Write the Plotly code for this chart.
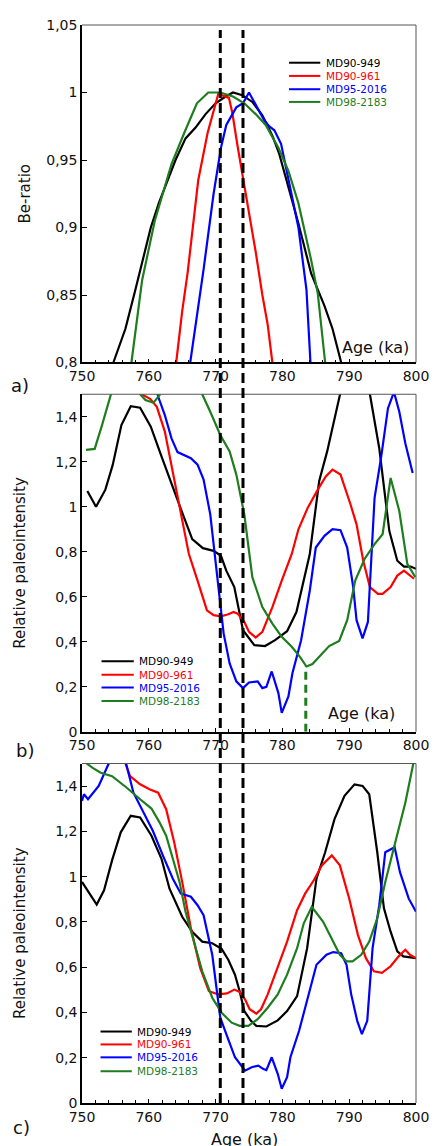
import plotly.graph_objects as go

# page has an 8px body margin, so the figure is made 8px smaller and margins shifted
PAGE_OFF = 8
W, H = 430, 1138
L, R, T, B = 74, 14, 9, 43

names = ["MD90-949", "MD90-961", "MD95-2016", "MD98-2183"]
colors = ["#000000", "#ff0000", "#0000ff", "#1e7d1e"]

# reversal boundaries (ka) drawn as dashed lines
reversal_ages = [770.7, 774.1]
md98_min_age = 783.5
md98_min_val = 0.29

# a) Be-ratio
be_age_949 = [754.7, 756.5, 758.0, 760.3, 761.5, 763.0, 764.0, 765.5, 767.0, 768.5, 770.0, 771.5,
              772.6, 774.0, 775.5, 777.0, 778.5, 779.5, 780.9, 782.4, 784.3, 786.3, 787.5, 788.8]
be_949 = [0.800, 0.825, 0.854, 0.900, 0.918, 0.938, 0.950, 0.966, 0.974, 0.984, 0.992, 0.997,
          1.000, 0.998, 0.993, 0.983, 0.968, 0.955, 0.930, 0.903, 0.866, 0.842, 0.825, 0.800]
be_age_961 = [764.1, 765.0, 765.8, 766.6, 767.4, 768.8, 770.4, 772.0, 772.5, 773.3, 774.1, 775.0,
              776.0, 777.0, 777.8, 778.5]
be_961 = [0.800, 0.838, 0.866, 0.900, 0.935, 0.970, 0.999, 0.996, 0.985, 0.960, 0.937, 0.910,
          0.882, 0.850, 0.828, 0.800]
be_age_2016 = [766.2, 768.2, 769.7, 770.8, 771.6, 773.1, 774.1, 775.0, 776.0, 777.2, 778.0, 778.8,
               779.8, 780.9, 782.4, 783.6, 784.2]
be_2016 = [0.800, 0.869, 0.925, 0.959, 0.976, 0.989, 0.992, 1.000, 0.991, 0.980, 0.975, 0.972,
           0.962, 0.935, 0.900, 0.854, 0.800]
be_age_2183 = [757.4, 759.0, 760.9, 763.4, 765.3, 767.2, 768.9, 770.7, 772.6, 774.3, 776.0, 777.5,
               779.4, 780.9, 782.4, 784.3, 785.3, 786.4]
be_2183 = [0.800, 0.861, 0.905, 0.947, 0.970, 0.992, 1.000, 1.000, 0.997, 0.992, 0.984, 0.976,
           0.959, 0.942, 0.918, 0.876, 0.851, 0.800]

# b) Relative paleointensity
pi_b_age_949 = [750.8, 752.1, 753.5, 754.6, 755.9, 757.3, 758.7, 760.3, 761.9, 763.4, 765.1, 766.5,
                768.1, 769.7, 770.8, 771.6, 772.8, 774.1, 775.8, 777.4, 778.9, 780.7, 782.1, 784.1,
                785.5, 786.7, 788.7, 790.0, 791.3, 792.3, 793.1, 794.5, 796.0, 797.2, 798.2, 799.2, 800.0]
pi_b_949 = [1.07, 1.00, 1.076, 1.186, 1.363, 1.447, 1.44, 1.356, 1.224, 1.099, 0.966, 0.856,
            0.816, 0.804, 0.782, 0.716, 0.643, 0.451, 0.385, 0.381, 0.407, 0.447, 0.532, 0.79,
            1.113, 1.246, 1.496, 1.68, 1.76, 1.70, 1.50, 1.26, 0.893, 0.76, 0.734, 0.734, 0.724]
pi_b_age_961 = [757.6, 758.9, 760.2, 761.2, 762.4, 763.6, 764.8, 766.0, 767.3, 768.7, 769.7, 770.8,
                771.9, 772.7, 773.3, 774.3, 775.0, 776.0, 777.0, 778.5, 779.9, 781.4, 782.4, 783.8,
                785.3, 786.5, 787.5, 788.7, 790.2, 791.1, 792.1, 793.1, 794.3, 795.0, 796.2, 797.2,
                798.2, 799.2, 799.7]
pi_b_961 = [1.57, 1.50, 1.48, 1.444, 1.334, 1.157, 0.966, 0.79, 0.672, 0.54, 0.518, 0.513,
            0.522, 0.532, 0.525, 0.488, 0.444, 0.419, 0.444, 0.554, 0.672, 0.79, 0.90, 0.996,
            1.076, 1.135, 1.165, 1.143, 1.01, 0.922, 0.76, 0.643, 0.613, 0.613, 0.643, 0.694,
            0.716, 0.694, 0.68]
pi_b_age_2016 = [760.6, 761.4, 762.4, 763.4, 764.3, 765.3, 766.3, 767.3, 768.2, 769.2, 770.2, 771.2,
                 772.1, 773.1, 774.1, 775.0, 776.3, 777.0, 777.6, 778.4, 779.4, 779.9, 780.9, 781.5,
                 782.8, 784.1, 785.0, 786.3, 787.5, 788.7, 789.7, 790.6, 791.1, 792.0, 792.8, 793.8,
                 794.8, 795.8, 796.7, 797.5, 798.4, 799.5]
pi_b_2016 = [1.60, 1.49, 1.407, 1.304, 1.243, 1.231, 1.216, 1.187, 1.121, 0.966, 0.701, 0.437,
             0.304, 0.224, 0.194, 0.219, 0.224, 0.194, 0.20, 0.268, 0.172, 0.084, 0.157, 0.26,
             0.407, 0.628, 0.819, 0.871, 0.90, 0.896, 0.819, 0.643, 0.496, 0.415, 0.488, 1.04,
             1.224, 1.437, 1.51, 1.422, 1.282, 1.15]
pi_b_age_2183 = [750.6, 751.9, 753.0, 754.3, 755.5, 757.0, 758.0, 758.7, 759.5, 760.7, 761.7, 762.5,
                 764.0, 766.0, 767.3, 768.0, 769.2, 770.7, 772.1, 773.1, 774.3, 775.5, 777.0, 778.5,
                 779.9, 781.4, 782.6, 783.6, 784.5, 785.8, 787.0, 788.5, 789.7, 790.9, 792.3, 793.8,
                 795.0, 796.2, 797.5, 798.7, 799.9]
pi_b_2183 = [1.253, 1.257, 1.363, 1.50, 1.62, 1.65, 1.56, 1.50, 1.474, 1.462, 1.50, 1.58,
             1.65, 1.65, 1.56, 1.50, 1.422, 1.319, 1.246, 1.143, 0.966, 0.687, 0.554, 0.481,
             0.422, 0.378, 0.334, 0.29, 0.301, 0.341, 0.381, 0.404, 0.496, 0.672, 0.768, 0.834,
             0.878, 1.128, 0.981, 0.746, 0.687]

# c) Relative paleointensity
pi_c_age_949 = [750.0, 751.1, 752.2, 753.3, 754.5, 755.8, 757.3, 758.7, 760.4, 761.9, 763.1, 765.0,
                766.5, 768.0, 769.5, 770.9, 771.9, 772.9, 773.6, 774.3, 775.3, 776.1, 777.6, 779.3,
                780.7, 782.2, 783.7, 785.1, 786.4, 787.8, 789.3, 790.8, 792.0, 793.0, 794.2, 795.2,
                796.2, 797.2, 798.1, 800.0]
pi_c_949 = [0.977, 0.925, 0.877, 0.94, 1.072, 1.196, 1.269, 1.262, 1.181, 1.079, 0.947, 0.823,
            0.757, 0.713, 0.706, 0.681, 0.633, 0.567, 0.494, 0.406, 0.363, 0.341, 0.338, 0.365,
            0.406, 0.472, 0.684, 0.991, 1.108, 1.254, 1.357, 1.408, 1.401, 1.364, 1.108, 0.86,
            0.757, 0.67, 0.648, 0.64]
pi_c_age_961 = [755.8, 756.5, 757.2, 758.7, 760.1, 761.4, 762.6, 763.8, 765.0, 766.3, 767.7, 769.0,
                770.4, 771.7, 772.8, 773.6, 774.4, 775.1, 776.1, 776.8, 777.8, 779.3, 780.7, 782.2,
                783.4, 784.7, 785.9, 787.4, 788.6, 790.0, 791.3, 792.5, 793.7, 794.9, 796.2, 797.4,
                798.4, 799.1, 800.0]
pi_c_961 = [1.58, 1.50, 1.444, 1.408, 1.386, 1.371, 1.298, 1.152, 0.977, 0.772, 0.596, 0.494,
            0.48, 0.484, 0.501, 0.491, 0.458, 0.414, 0.395, 0.414, 0.48, 0.596, 0.713, 0.852,
            0.925, 0.984, 1.05, 1.094, 1.05, 0.904, 0.743, 0.64, 0.582, 0.575, 0.604, 0.648,
            0.677, 0.655, 0.64]
pi_c_age_2016 = [750.0, 750.3, 750.9, 752.5, 754.0, 755.0, 756.0, 756.6, 757.7, 759.2, 760.6, 762.1,
                 763.6, 764.8, 766.3, 767.3, 768.2, 769.5, 770.7, 771.7, 772.9, 774.4, 775.4, 776.4,
                 777.1, 777.6, 778.4, 779.3, 779.9, 780.7, 781.2, 782.5, 783.9, 785.1, 786.6, 787.6,
                 788.8, 789.6, 790.3, 791.2, 791.9, 792.7, 793.5, 794.5, 795.4, 796.8, 797.6, 798.9,
                 800.0]
pi_c_2016 = [1.335, 1.364, 1.342, 1.401, 1.50, 1.60, 1.58, 1.50, 1.371, 1.284, 1.203, 1.094,
             0.991, 0.925, 0.911, 0.874, 0.83, 0.655, 0.377, 0.297, 0.202, 0.143, 0.158, 0.165,
             0.151, 0.145, 0.202, 0.129, 0.063, 0.114, 0.202, 0.319, 0.48, 0.611, 0.655, 0.667,
             0.662, 0.611, 0.48, 0.363, 0.304, 0.363, 0.684, 0.874, 1.108, 1.13, 1.02, 0.904,
             0.845]
pi_c_age_2183 = [750.0, 750.7, 751.6, 752.8, 754.5, 756.7, 758.7, 760.4, 761.6, 762.6, 763.6, 764.6,
                 765.5, 766.8, 768.0, 769.5, 770.9, 772.4, 773.6, 774.9, 776.3, 777.8, 779.3, 780.7,
                 782.2, 783.2, 784.4, 786.1, 787.4, 788.6, 789.6, 790.5, 791.8, 793.0, 794.2, 795.4,
                 796.9, 798.4, 799.6, 800.0]
pi_c_2183 = [1.53, 1.50, 1.481, 1.459, 1.444, 1.393, 1.342, 1.301, 1.24, 1.181, 1.079, 0.977,
             0.845, 0.713, 0.582, 0.465, 0.399, 0.355, 0.341, 0.341, 0.37, 0.421, 0.48, 0.567,
             0.684, 0.794, 0.867, 0.801, 0.728, 0.655, 0.626, 0.626, 0.655, 0.713, 0.816, 0.977,
             1.152, 1.327, 1.50, 1.56]

panels = [
    ("x", "y", [(be_age_949, be_949), (be_age_961, be_961), (be_age_2016, be_2016), (be_age_2183, be_2183)]),
    ("x2", "y2", [(pi_b_age_949, pi_b_949), (pi_b_age_961, pi_b_961), (pi_b_age_2016, pi_b_2016), (pi_b_age_2183, pi_b_2183)]),
    ("x3", "y3", [(pi_c_age_949, pi_c_949), (pi_c_age_961, pi_c_961), (pi_c_age_2016, pi_c_2016), (pi_c_age_2183, pi_c_2183)]),
]


# page pixel -> paper fraction
def px_x(p):
    return (p - PAGE_OFF - L) / (W - L - R)


def px_y(p):
    return (H + PAGE_OFF - B - p) / (H - T - B)


fig = go.Figure()
for xa, ya, series in panels:
    for (ages, vals), name, col in zip(series, names, colors):
        fig.add_trace(go.Scatter(x=ages, y=vals, mode="lines", name=name, xaxis=xa, yaxis=ya,
                                 line=dict(color=col, width=2.2), showlegend=False))

domains = [[px_y(357), 1.0], [px_y(729), px_y(389)], [0.0, px_y(761)]]
tickfont = dict(size=14, color="#111")


def xaxis(anchor):
    return dict(domain=[0, 1], range=[750, 800], anchor=anchor, showline=True, linecolor="black",
                linewidth=1.5, ticks="inside", ticklen=4, tickwidth=1, tickcolor="black",
                tick0=750, dtick=10, showgrid=False, zeroline=False, tickfont=tickfont,
                minor=dict(ticks="inside", dtick=2, ticklen=3, tickwidth=1, tickcolor="black"))


def yaxis(anchor, dom, rng, dtick, title, standoff):
    return dict(domain=dom, range=rng, anchor=anchor, showline=True, linecolor="black",
                linewidth=1.5, ticks="inside", ticklen=5, tickwidth=1, tickcolor="black",
                dtick=dtick, tick0=0, showgrid=False, zeroline=False, tickfont=tickfont,
                title=dict(text=title, font=dict(size=15, color="#111"), standoff=standoff))


shapes = []
annotations = []

# frame top/right
for xa, ya in [("x", "y"), ("x2", "y2"), ("x3", "y3")]:
    shapes.append(dict(type="line", xref=xa + " domain", yref=ya + " domain", x0=0, x1=1, y0=1, y1=1,
                       line=dict(color="#555", width=1)))
    shapes.append(dict(type="line", xref=xa + " domain", yref=ya + " domain", x0=1, x1=1, y0=0, y1=1,
                       line=dict(color="#555", width=1)))

# reversal dashed lines through all panels
for age in reversal_ages:
    shapes.append(dict(type="line", xref="x", yref="paper", x0=age, x1=age, y0=0, y1=px_y(22),
                       line=dict(color="black", width=3, dash="10px,5px"), layer="above"))
shapes.append(dict(type="line", xref="x2", yref="y2", x0=md98_min_age, x1=md98_min_age, y0=0,
                   y1=md98_min_val, line=dict(color=colors[3], width=3, dash="8px,5px"), layer="above"))

# legends
legend_pos = [(294, 326, 330, [55, 68.3, 81.7, 94.5]),
              (102, 135, 138, [658, 671.5, 684.5, 698]),
              (101, 133, 136, [1031, 1044, 1057, 1071])]
for x0, x1, xt, rows in legend_pos:
    for yy, name, col in zip(rows, names, colors):
        shapes.append(dict(type="line", xref="paper", yref="paper", x0=px_x(x0), x1=px_x(x1),
                           y0=px_y(yy), y1=px_y(yy), line=dict(color=col, width=2)))
        annotations.append(dict(text=name, xref="paper", yref="paper", x=px_x(xt), y=px_y(yy),
                                xanchor="left", yanchor="middle", showarrow=False,
                                font=dict(size=10.5, color=col)))

# "Age (ka)" labels
annotations.append(dict(text="Age (ka)", xref="paper", yref="paper", x=px_x(419), y=px_y(342),
                        xanchor="right", yanchor="middle", showarrow=False, font=dict(size=16, color="#111")))
annotations.append(dict(text="Age (ka)", xref="paper", yref="paper", x=px_x(405), y=px_y(711),
                        xanchor="right", yanchor="middle", showarrow=False, font=dict(size=16, color="#111")))
annotations.append(dict(text="Age (ka)", xref="paper", yref="paper", x=px_x(248), y=px_y(1140),
                        xanchor="center", yanchor="middle", showarrow=False, font=dict(size=16, color="#111")))

# panel letters
for lab, xx, yy in [("a)", 19, 380), ("b)", 24, 748), ("c)", 20, 1128)]:
    annotations.append(dict(text=lab, xref="paper", yref="paper", x=px_x(xx), y=px_y(yy),
                            xanchor="center", yanchor="middle", showarrow=False,
                            font=dict(size=18, color="#111")))

fig.update_layout(
    width=W, height=H,
    margin=dict(l=L, r=R, t=T, b=B),
    paper_bgcolor="white", plot_bgcolor="white",
    font=dict(family="DejaVu Sans", color="#111"),
    separators=",.",
    showlegend=False,
    xaxis=xaxis("y"), xaxis2=xaxis("y2"), xaxis3=xaxis("y3"),
    yaxis=yaxis("x", domains[0], [0.8, 1.05], 0.05, "Be-ratio", 12),
    yaxis2=yaxis("x2", domains[1], [0, 1.5], 0.2, "Relative paleointensity", 26),
    yaxis3=yaxis("x3", domains[2], [0, 1.5], 0.2, "Relative paleointensity", 26),
    shapes=shapes,
    annotations=annotations,
)

fig.write_html("out.html")
